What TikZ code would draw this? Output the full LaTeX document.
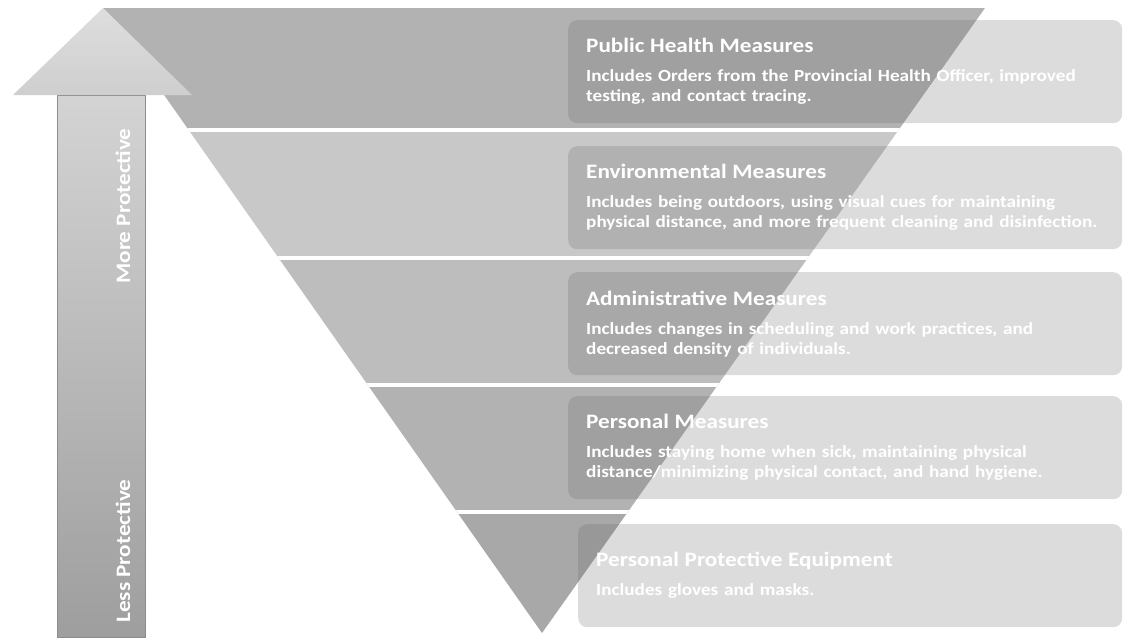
\documentclass[tikz,border=0pt]{standalone}
\usepackage{fontspec}
\setmainfont{Carlito}[FakeStretch=1.13]
\definecolor{bandA}{HTML}{B2B2B2}
\definecolor{bandB}{HTML}{C8C8C8}
\definecolor{bandC}{HTML}{BDBDBD}
\definecolor{bandD}{HTML}{B2B2B2}
\definecolor{bandE}{HTML}{A8A8A8}
\newcommand{\mtitle}[1]{{\fontsize{20.5}{22}\selectfont #1}\\[9pt]}
\begin{document}
\begin{tikzpicture}[x=1pt,y=-1pt,
    measure/.style={rectangle,rounded corners=9pt,fill=black!62,fill opacity=0.22,text opacity=1,text=white,
        anchor=north west,minimum width=554pt,minimum height=103pt,text width=518pt,inner xsep=18pt,
        align=left,font=\bfseries\fontsize{17}{20}\selectfont},
    side/.style={rotate=90,text=white,font=\bfseries\fontsize{20.5}{21}\selectfont}
]
\useasboundingbox (0,0) rectangle (1126,638);

% inverted triangle, cut in five bands
\begin{scope}
\clip (103,8) -- (985,8) -- (542,633) -- cycle;
\fill[bandA] (0,0) rectangle (1126,130);
\fill[bandB] (0,130) rectangle (1126,258);
\fill[bandC] (0,258) rectangle (1126,385);
\fill[bandD] (0,385) rectangle (1126,512);
\fill[bandE] (0,512) rectangle (1126,638);
\draw[white,line width=3.5pt] (0,130) -- (1126,130) (0,258) -- (1126,258)
    (0,385) -- (1126,385) (0,512) -- (1126,512);
\end{scope}

% protection arrow
\shade[top color=black!17,bottom color=black!38,draw=black!45,line width=0.6pt]
    (57,95) rectangle (145,637);
\shade[top color=black!13,bottom color=black!19] (13,95) -- (103,8) -- (192,95) -- cycle;
\node[side] (more) at (123,206) {More Protective};
\node[side] (less) at (123,551) {Less Protective};

\node[measure] (ph) at (568,20) {\mtitle{Public Health Measures}Includes Orders from the Provincial Health Officer, improved\\testing, and contact tracing.};
\node[measure] (env) at (568,146) {\mtitle{Environmental Measures}Includes being outdoors, using visual cues for maintaining\\physical distance, and more frequent cleaning and disinfection.};
\node[measure] (adm) at (568,272) {\mtitle{Administrative Measures}Includes changes in scheduling and work practices, and\\decreased density of individuals.};
\node[measure] (pers) at (568,396) {\mtitle{Personal Measures}Includes staying home when sick, maintaining physical\\distance/minimizing physical contact, and hand hygiene.};
\node[measure,minimum width=544pt,text width=508pt] (ppe) at (578,524) {\mtitle{Personal Protective Equipment}Includes gloves and masks.\\[16pt]};
\end{tikzpicture}
\end{document}
